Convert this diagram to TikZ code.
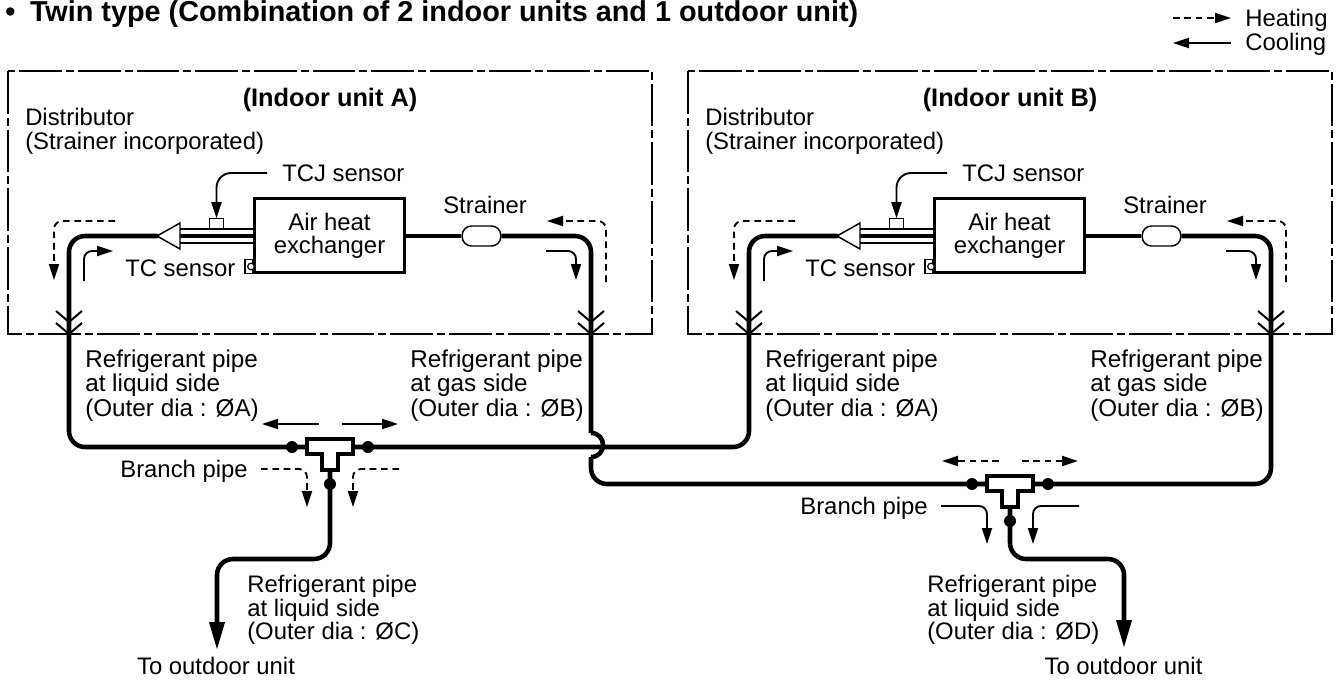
\documentclass[tikz,border=0pt]{standalone}
\usepackage{fontspec}
\setmainfont{Liberation Sans}
\usetikzlibrary{arrows.meta}

\begin{document}
\begin{tikzpicture}[
  x=0.75pt, y=-0.75pt,
  every node/.style={inner sep=0pt, font=\fontsize{17.9}{17.8}\selectfont},
  label/.style={anchor=west, align=left},
  pipelabel/.style={label, font=\fontsize{18.2}{18.3}\selectfont},
  frame/.style={line width=1.9pt, dash pattern=on 32pt off 3pt on 6pt off 3pt},
  pipe/.style={line width=3.4pt, rounded corners=12pt},
  outpipe/.style={pipe, -{Triangle[length=21pt,width=11pt]}},
  tube/.style={line width=1.1pt},
  tee/.style={draw, fill=white, line width=3pt, line join=miter},
  joint/.style={circle, fill, minimum size=9pt},
  coolflow/.style={-{Triangle[length=12pt,width=7.5pt]}, line width=1.4pt, rounded corners=6pt},
  heatflow/.style={coolflow, dash pattern=on 5pt off 3.5pt}
]
  \useasboundingbox (0,0) rectangle (1342,679);

  \node[anchor=base west, font=\bfseries\fontsize{21.6}{24}\selectfont] (title) at (5,21) {•\hspace{11pt}Twin type (Combination of 2 indoor units and 1 outdoor unit)};

  % legend
  \node[label] (heating) at (1245,20) {Heating};
  \node[label] (cooling) at (1245,44) {Cooling};
  \coordinate (heatstart) at (1173,18);
  \coordinate (coolstart) at (1231,43);
  \draw[heatflow] (heatstart) -- (1231,18);
  \draw[coolflow] (coolstart) -- (1173,43);

  % the two indoor units
  \foreach \u/\dx in {A/0,B/680} {
  \begin{scope}[xshift=\dx*0.75pt]
    \draw[frame] (8,71) rectangle (652,334);
    \node[font=\bfseries\fontsize{19}{18}\selectfont] (title\u) at (330,99.5) {(Indoor unit \u)};
    \node[label] (dist\u) at (25,131) {Distributor\\(Strainer incorporated)};

    \node[draw, line width=2.2pt, minimum width=113pt, minimum height=56pt, align=center, font=\fontsize{17.9}{17}\selectfont] (hex\u) at (329.5,235.5) {Air heat\\exchanger};
    \node[draw, fill=white, line width=1.1pt, rounded corners=7pt, minimum width=29pt, minimum height=15pt] (strainer\u) at (481.5,236) {};
    \node[label] (strainerlab\u) at (443,205) {Strainer};
    \coordinate (disttip\u) at (157,236);
    \coordinate (flareL\u) at (69,334);
    \coordinate (flareG\u) at (591,334);

    % capillary and distributor
    \draw[tube] (180,229) -- (254,229) (180,243) -- (254,243);
    \draw[line width=3.4pt] (hex\u.west |- disttip\u) -- (disttip\u);
    \draw[tube, fill=white] (disttip\u) -- (180,223) -- (180,249) -- cycle;

    % sensors
    \node[label] (tcjlab\u) at (282,173) {TCJ sensor};
    \node[draw, fill=white, line width=0.9pt, minimum width=11pt, minimum height=7pt] (tcj\u) at (216.5,223.5) {};
    \coordinate (tcjstart\u) at (267,173);
    \draw[coolflow, rounded corners=11pt] (tcjstart\u) -| (tcj\u.north);
    \node[label] (tclab\u) at (125,268) {TC sensor};
    \node[draw, line width=0.9pt, minimum width=6pt, minimum height=11pt] (tc\u) at (249,266.5) {};
    \node[draw, circle, fill=white, line width=0.9pt, minimum size=5pt] (tcbulb\u) at (251,266.5) {};

    % flow arrows inside the unit
    \draw[heatflow] (115,221) -| (54,280);
    \draw[coolflow] (84,281) |- (113,251);
    \draw[coolflow] (546,251) -| (576,280);
    \draw[heatflow] (606,282) |- (547,221);

    % flare joints
    \foreach \fx in {69,591} {
      \draw[line width=1.5pt] (\fx-13,311) -- (\fx,322) -- (\fx+13,311);
      \draw[line width=1.5pt] (\fx-13,323) -- (\fx,334) -- (\fx+13,323);
    }

    \node[pipelabel] (liqlab\u) at (85,385.5) {Refrigerant pipe\\at liquid side\\(Outer dia : ØA)};
    \node[pipelabel] (gaslab\u) at (410,385.5) {Refrigerant pipe\\at gas side\\(Outer dia : ØB)};
  \end{scope}
  }

  % branch pipes
  \foreach \u/\tx/\ty/\up/\dn in {A/330/447/coolflow/heatflow,B/1010/484/heatflow/coolflow} {
  \begin{scope}[shift={(\tx,\ty)}]
    \coordinate (tee\u l) at (-23,0);
    \coordinate (tee\u r) at (23,0);
    \coordinate (tee\u b) at (0,23);
    \node[label, anchor=east] (branch\u) at (-82,24) {Branch pipe};
    \draw[\up] (-11,-23) -- (-68,-23);
    \draw[\up] (12,-23) -- (68,-23);
    \draw[\dn] (-69,22) -| (-23,60);
    \draw[\dn] (69,22) -| (23,60);
  \end{scope}
  }

  % refrigerant pipes
  \coordinate (bumptop) at (591,433);
  \coordinate (bumpend) at (591,457);
  \draw[pipe] (disttipA) -| (flareLA) |- (teeAl);
  \draw[pipe] (disttipB) -| (flareLB) |- (teeAr);
  \draw[pipe] (hexA.east |- strainerA) -- (strainerA.west);
  \draw[pipe] (hexB.east |- strainerB) -- (strainerB.west);
  \draw[pipe] (strainerA.east) -| (bumptop);
  \draw[line width=3.4pt] (bumptop) .. controls (607,433) and (607,457) .. (bumpend);
  \draw[pipe] (bumpend) |- (teeBl);
  \draw[pipe] (strainerB.east) -| (flareGB) |- (teeBr);

  % tees and joints
  \foreach \u/\tx/\ty in {A/330/447,B/1010/484} {
  \begin{scope}[shift={(\tx,\ty)}]
    \draw[tee] (-23,-8) -- (23,-8) -- (23,7) -- (8,7) -- (8,23) -- (-8,23) -- (-8,7) -- (-23,7) -- cycle;
    \node[joint] (joint\u l) at (-38,0) {};
    \node[joint] (joint\u r) at (38,0) {};
    \node[joint] (joint\u b) at (0,37) {};
  \end{scope}
  }

  % to the outdoor unit
  \node (outA) at (216,666) {To outdoor unit};
  \node (outB) at (1123.5,666) {To outdoor unit};
  \coordinate (bendA) at (217,559);
  \coordinate (bendB) at (1124,559);
  \draw[outpipe] (teeAb) |- (bendA) -- (217,650);
  \draw[outpipe] (teeBb) |- (bendB) -- (1124,648);
  \node[label] (liqlabC) at (247,610) {Refrigerant pipe\\at liquid side\\(Outer dia : ØC)};
  \node[label] (liqlabD) at (927,610) {Refrigerant pipe\\at liquid side\\(Outer dia : ØD)};
\end{tikzpicture}
\end{document}
